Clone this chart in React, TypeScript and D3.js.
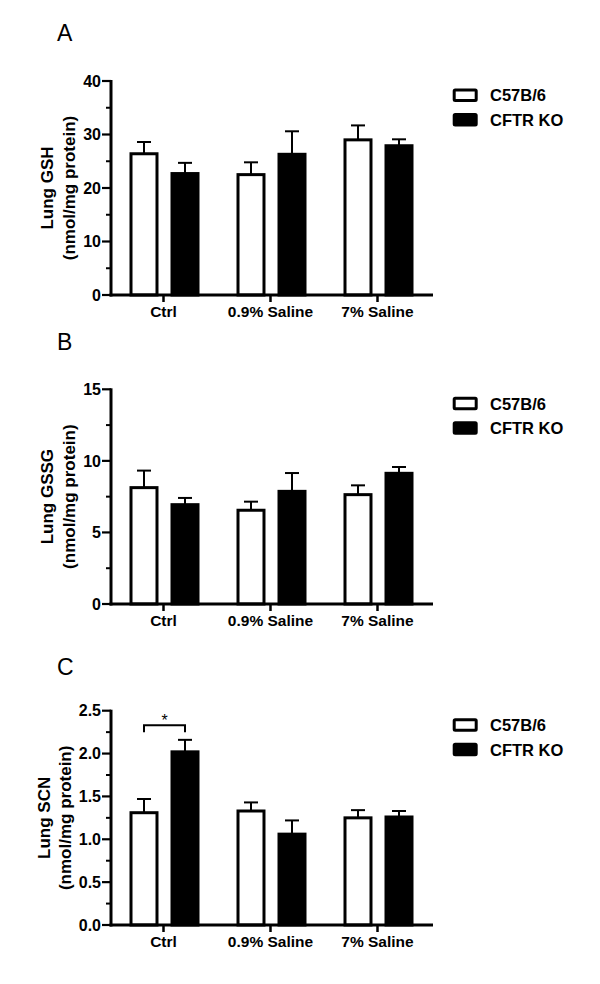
import React from "react";
import * as d3 from "d3";

const categories = ["Ctrl", "0.9% Saline", "7% Saline"];
const seriesNames = ["C57B/6", "CFTR KO"];
const seriesFills = ["#ffffff", "#000000"];
const panelLetters = ["A", "B", "C"];
const yTitles = ["Lung GSH", "Lung GSSG", "Lung SCN"];
const yUnit = "(nmol/mg protein)";

// Panel A: Lung GSH
const gshWT = [26.4, 22.5, 29.0];
const gshWTErr = [2.2, 2.3, 2.7];
const gshKO = [22.7, 26.3, 27.9];
const gshKOErr = [2.0, 4.3, 1.2];
const gshTicks = [0, 10, 20, 30, 40];
const gshMinor = [5, 15, 25, 35];

// Panel B: Lung GSSG
const gssgWT = [8.13, 6.55, 7.64];
const gssgWTErr = [1.19, 0.6, 0.65];
const gssgKO = [6.94, 7.87, 9.13];
const gssgKOErr = [0.47, 1.28, 0.44];
const gssgTicks = [0, 5, 10, 15];
const gssgMinor = [2.5, 7.5, 12.5];

// Panel C: Lung SCN
const scnWT = [1.31, 1.33, 1.25];
const scnWTErr = [0.16, 0.1, 0.09];
const scnKO = [2.02, 1.06, 1.26];
const scnKOErr = [0.14, 0.16, 0.07];
const scnTicks = [0, 0.5, 1.0, 1.5, 2.0, 2.5];
const scnMinor = [0.25, 0.75, 1.25, 1.75, 2.25];

const scnSignif = [{ category: "Ctrl", level: 2.33, legLevel: 2.25, label: "*" }];

const FONT = "'Liberation Sans', Arial, Helvetica, sans-serif";

type PanelDef = {
  letter: string;
  title: string;
  wt: number[];
  wtErr: number[];
  ko: number[];
  koErr: number[];
  ticks: number[];
  minor: number[];
  fmt: (v: number) => string;
  top: number;
  bottom: number;
  letterY: number;
  titleX1: number;
  titleX2: number;
  signif: { category: string; level: number; legLevel: number; label: string }[];
};

const panels: PanelDef[] = [
  {
    letter: panelLetters[0], title: yTitles[0], wt: gshWT, wtErr: gshWTErr, ko: gshKO, koErr: gshKOErr,
    ticks: gshTicks, minor: gshMinor, fmt: d3.format("d"), top: 81, bottom: 295, letterY: 40.7,
    titleX1: 53, titleX2: 75, signif: [],
  },
  {
    letter: panelLetters[1], title: yTitles[1], wt: gssgWT, wtErr: gssgWTErr, ko: gssgKO, koErr: gssgKOErr,
    ticks: gssgTicks, minor: gssgMinor, fmt: d3.format("d"), top: 389.3, bottom: 604, letterY: 350,
    titleX1: 53, titleX2: 75, signif: [],
  },
  {
    letter: panelLetters[2], title: yTitles[2], wt: scnWT, wtErr: scnWTErr, ko: scnKO, koErr: scnKOErr,
    ticks: scnTicks, minor: scnMinor, fmt: d3.format(".1f"), top: 710.7, bottom: 925, letterY: 674.5,
    titleX1: 50, titleX2: 70.5, signif: scnSignif,
  },
];

const AXIS_X = 111;
const AXIS_END = 433;

function Panel({ p }: { p: PanelDef }) {
  const maxTick = p.ticks[p.ticks.length - 1];
  const y = d3.scaleLinear().domain([0, maxTick]).range([p.bottom, p.top]);
  const x0 = d3.scaleBand<string>().domain(categories).range([AXIS_X, AXIS_END - 1]).paddingInner(0).paddingOuter(0);
  const groupW = 70;
  const x1 = d3.scaleBand<string>().domain(seriesNames).range([0, groupW]).paddingInner(0.293).paddingOuter(0);
  const bw = x1.bandwidth();
  const values = [p.wt, p.ko];
  const errs = [p.wtErr, p.koErr];
  const midY = (p.top + p.bottom) / 2;
  const groupLeft = (c: string) => (x0(c) as number) + x0.bandwidth() / 2 - groupW / 2;

  return (
    <g>
      <text x={57} y={p.letterY} fontFamily={FONT} fontSize={23} fill="#000">{p.letter}</text>
      {/* y title */}
      <text transform={`translate(${p.titleX1},${midY}) rotate(-90)`} textAnchor="middle" fontFamily={FONT} fontWeight="bold" fontSize={17}>{p.title}</text>
      <text transform={`translate(${p.titleX2},${midY}) rotate(-90)`} textAnchor="middle" fontFamily={FONT} fontWeight="bold" fontSize={17}>{yUnit}</text>

      {/* bars */}
      {categories.map((c, ci) =>
        seriesNames.map((s, si) => {
          const left = groupLeft(c) + (x1(s) as number);
          const v = values[si][ci];
          const e = errs[si][ci];
          const cx = left + bw / 2;
          return (
            <g key={c + s}>
              <line x1={cx} x2={cx} y1={y(v)} y2={y(v + e)} stroke="#000" strokeWidth={2} />
              <line x1={cx - 7} x2={cx + 7} y1={y(v + e)} y2={y(v + e)} stroke="#000" strokeWidth={2} />
              <rect x={left + 1.5} y={y(v)} width={bw - 3} height={p.bottom - y(v)} fill={seriesFills[si]} stroke="#000" strokeWidth={3} />
            </g>
          );
        })
      )}

      {/* significance */}
      {p.signif.map((sg) => {
        const gl = groupLeft(sg.category);
        const xa = gl + (x1(seriesNames[0]) as number) + bw / 2;
        const xb = gl + (x1(seriesNames[1]) as number) + bw / 2;
        const yl = y(sg.level);
        const yleg = y(sg.legLevel);
        return (
          <g key={sg.category}>
            <path d={`M${xa},${yleg}V${yl}H${xb}V${yleg}`} fill="none" stroke="#000" strokeWidth={2} />
            <text x={(xa + xb) / 2} y={yl + 1} textAnchor="middle" fontFamily={FONT} fontSize={16}>{sg.label}</text>
          </g>
        );
      })}

      {/* y axis */}
      <line x1={AXIS_X} x2={AXIS_X} y1={p.top - 1} y2={p.bottom + 1.5} stroke="#000" strokeWidth={3} />
      {p.ticks.map((t) => (
        <g key={"t" + t}>
          <line x1={AXIS_X - 9} x2={AXIS_X} y1={y(t)} y2={y(t)} stroke="#000" strokeWidth={2.2} />
          <text x={AXIS_X - 10} y={y(t)} dy="0.36em" textAnchor="end" fontFamily={FONT} fontWeight="bold" fontSize={16}>{p.fmt(t)}</text>
        </g>
      ))}
      {p.minor.map((t) => (
        <line key={"m" + t} x1={AXIS_X - 5} x2={AXIS_X} y1={y(t)} y2={y(t)} stroke="#000" strokeWidth={2} />
      ))}

      {/* x axis */}
      <line x1={AXIS_X - 1.5} x2={AXIS_END} y1={p.bottom} y2={p.bottom} stroke="#000" strokeWidth={3} />
      {categories.map((c) => {
        const cx = (x0(c) as number) + x0.bandwidth() / 2 - 1;
        return (
          <g key={"c" + c}>
            <line x1={cx} x2={cx} y1={p.bottom} y2={p.bottom + 7} stroke="#000" strokeWidth={2.5} />
            <text x={cx} y={p.bottom + 22} textAnchor="middle" fontFamily={FONT} fontWeight="bold" fontSize={15.5}>{c}</text>
          </g>
        );
      })}

      {/* legend */}
      {seriesNames.map((s, si) => (
        <g key={"l" + s}>
          <rect x={454.2} y={p.top + 9 + si * 24.5} width={22} height={10.5} rx={1} fill={seriesFills[si]} stroke="#000" strokeWidth={3} />
          <text x={490} y={p.top + 20.3 + si * 24.8} fontFamily={FONT} fontWeight="bold" fontSize={16.5}>{s}</text>
        </g>
      ))}
    </g>
  );
}

export default function App() {
  return (
    <svg width={600} height={984} style={{ position: "absolute", left: 0, top: 0, background: "#fff" }}>
      <rect x={0} y={0} width={600} height={984} fill="#fff" />
      {panels.map((p) => (
        <Panel key={p.letter} p={p} />
      ))}
    </svg>
  );
}
